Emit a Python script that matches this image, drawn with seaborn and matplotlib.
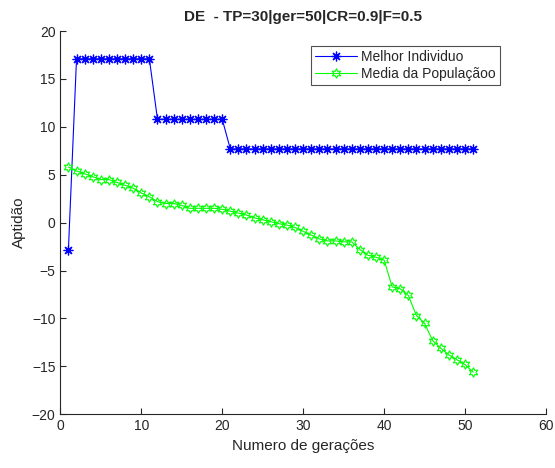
import numpy as np
import pandas as pd
import seaborn as sns
import matplotlib.pyplot as plt

geracoes = list(range(1, 52))
melhor = [-2.8] + [17.1] * 10 + [10.8] * 9 + [7.7] * 31
media = [5.8, 5.4, 5.1, 4.8, 4.5, 4.5, 4.2, 3.9, 3.6, 3.1,
         2.7, 2.2, 2.0, 2.0, 1.8, 1.5, 1.5, 1.5, 1.5, 1.4,
         1.2, 1.0, 0.8, 0.5, 0.3, 0.1, -0.1, -0.25, -0.5, -0.9,
         -1.3, -1.7, -1.9, -1.9, -2.0, -2.0, -2.8, -3.4, -3.6, -3.9,
         -6.7, -6.9, -7.6, -9.7, -10.5, -12.3, -13.1, -13.8, -14.3, -14.8,
         -15.6]

df = pd.DataFrame({'ger': geracoes, 'melhor': melhor, 'media': media})

sns.set_style('white')
plt.rcParams['font.family'] = ['Liberation Sans', 'DejaVu Sans']

fig = plt.figure(figsize=(5.55, 4.68), dpi=100)
ax = fig.add_axes([0.1087, 0.1147, 0.875, 0.819])

# asterisco estilo matlab (+ e x juntos)
sns.lineplot(data=df, x='ger', y='melhor', ax=ax, color='#0000ff', marker=(8, 2, 0),
             markersize=7, markeredgewidth=0.9, markeredgecolor='#0000ff',
             linewidth=0.8, label='Melhor Individuo')
sns.lineplot(data=df, x='ger', y='media', ax=ax, color='#00ff00', marker=(6, 1, 0),
             markersize=7, markerfacecolor='none', markeredgecolor='#00ff00',
             markeredgewidth=0.8, linewidth=0.8, label='Media da Populaçãoo')

ax.set_xlim(0, 60)
ax.set_ylim(-20, 20)
ax.set_xticks(range(0, 61, 10))
ax.set_yticks(range(-20, 21, 5))
ax.set_xlabel('Numero de gerações', fontsize=11, color='#262626')
ax.set_ylabel('Aptidão', fontsize=11, color='#262626')
ax.set_title('DE  - TP=30|ger=50|CR=0.9|F=0.5', fontsize=11, fontweight='bold', pad=7)

for s in ['top', 'right']:
    ax.spines[s].set_visible(False)
for s in ['left', 'bottom']:
    ax.spines[s].set_color('#262626')
    ax.spines[s].set_linewidth(0.8)
ax.tick_params(direction='in', length=4, width=0.8, colors='#262626',
               labelsize=10, left=True, bottom=True)

leg = ax.legend(loc='upper right', bbox_to_anchor=(0.905, 0.962), fontsize=10,
                frameon=True, fancybox=False, borderpad=0.3, labelspacing=0.25,
                handlelength=3.0, handletextpad=0.3, borderaxespad=0)
leg.get_frame().set_edgecolor('#262626')
leg.get_frame().set_linewidth(0.8)

fig.savefig('out.png', dpi=100)
